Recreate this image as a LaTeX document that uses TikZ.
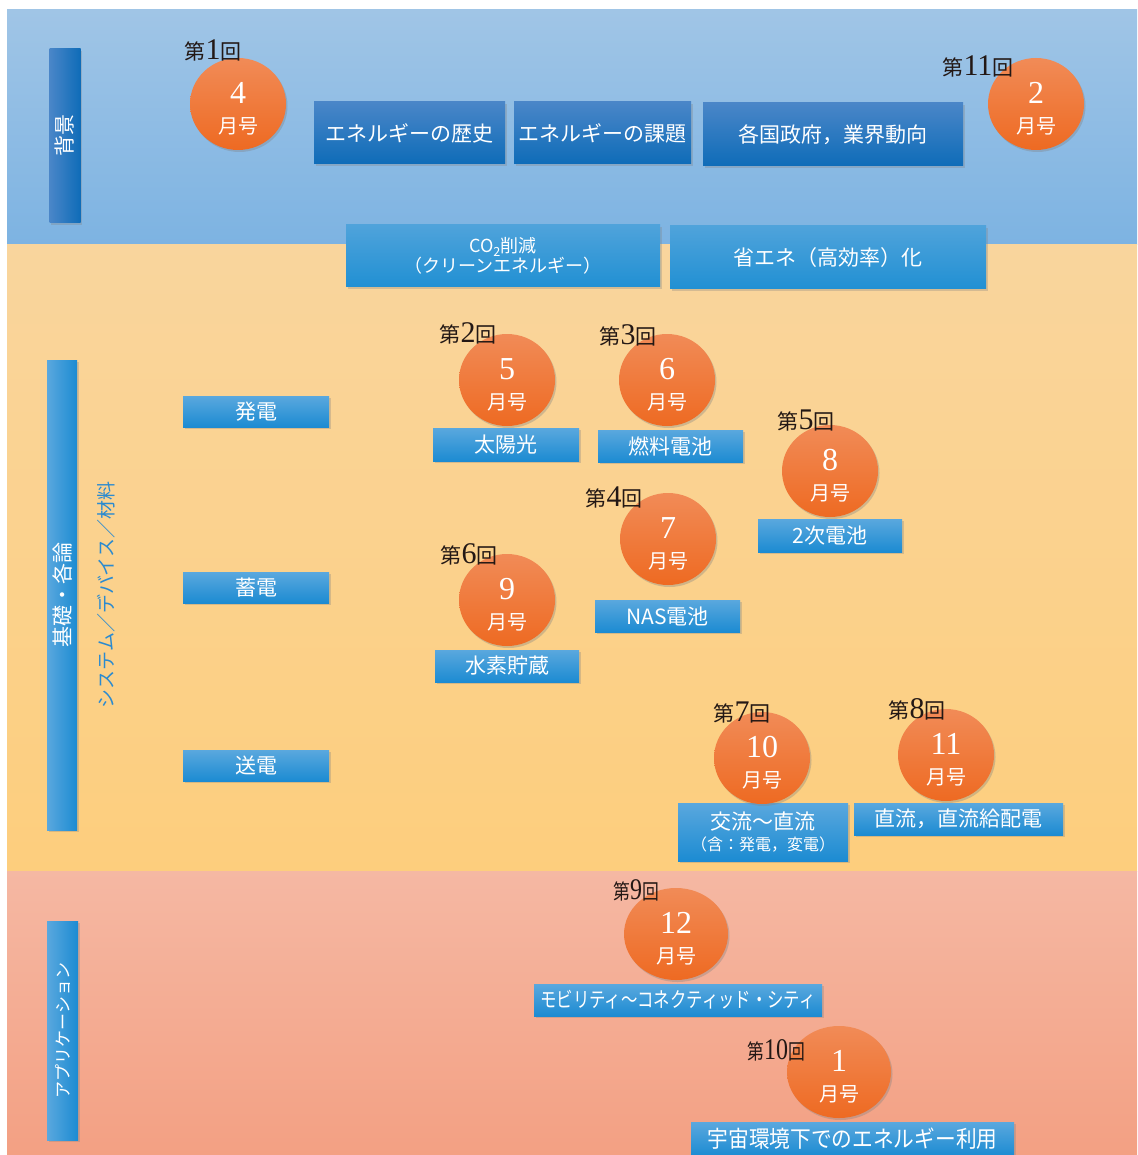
\documentclass[tikz,border=0pt]{standalone}
\usepackage{fontspec}
\usepackage{graphicx}
\setmainfont{Liberation Serif}
\newfontfamily\jpfont{Noto Sans CJK JP}
\usetikzlibrary{shapes.geometric,shadows}

\definecolor{bandblueA}{HTML}{A0C5E6}
\definecolor{bandblueB}{HTML}{7DB3E2}
\definecolor{bandorangeA}{HTML}{F9D59D}
\definecolor{bandorangeB}{HTML}{FDCE7D}
\definecolor{bandpinkA}{HTML}{F5B8A3}
\definecolor{bandpinkB}{HTML}{F3A083}
\definecolor{darkA}{HTML}{4A86C8}
\definecolor{darkB}{HTML}{0E6CB8}
\definecolor{midA}{HTML}{4FA3DB}
\definecolor{midB}{HTML}{2190D3}
\definecolor{lightA}{HTML}{5AA8DE}
\definecolor{lightB}{HTML}{1C8BD2}
\definecolor{orangeA}{HTML}{F18B57}
\definecolor{orangeB}{HTML}{EE6A22}
\definecolor{inkc}{HTML}{231815}
\definecolor{sysblue}{HTML}{2A8AD0}

\newcommand{\jpsize}[1]{\jpfont\fontsize{#1}{#1}\selectfont}
\newcommand{\kai}[1]{{\jpsize{21}第}{\fontsize{30}{30}\selectfont #1}{\jpsize{21}回}}
\newcommand{\gou}[1]{{\fontsize{32}{30}\selectfont\rule{0pt}{31pt}#1}\\{\jpfont\fontsize{20}{30}\selectfont 月号}}

\begin{document}
\begin{tikzpicture}[x=1pt, y=-1pt,
    darkbox/.style={rectangle, inner sep=0pt, top color=darkA, bottom color=darkB,
      text=white, font=\jpsize{21}, align=center,
      drop shadow={shadow xshift=1.5pt, shadow yshift=-2pt, opacity=0.3}},
    midbox/.style={darkbox, top color=midA, bottom color=midB},
    topicbox/.style={darkbox, top color=lightA, bottom color=lightB},
    sidebar/.style={darkbox, left color=lightA, right color=lightB, rotate=90},
    issue/.style={ellipse, inner sep=0pt, minimum width=96pt, minimum height=92pt,
      top color=orangeA, bottom color=orangeB, text=white, align=center,
      font=\fontsize{20}{30}\selectfont,
      drop shadow={shadow xshift=1.5pt, shadow yshift=-2pt, opacity=0.35}},
    kailabel/.style={text=inkc, inner sep=0pt}]
  \fill[white] (0,0) rectangle (1137,1155);
  \useasboundingbox (0,0) rectangle (1137,1155);

  % Bands
  \shade[top color=bandblueA, bottom color=bandblueB] (7,10) rectangle (1137,245);
  \shade[top color=bandorangeA, bottom color=bandorangeB] (7,245) rectangle (1137,871);
  \shade[top color=bandpinkA, bottom color=bandpinkB] (7,871) rectangle (1137,1155);

  % Side bars
  \node[sidebar, left color=darkA, right color=darkB, minimum width=174pt, minimum height=31pt] (haikei) at (65,136) {背景};
  \node[sidebar, minimum width=470pt, minimum height=30pt] (kiso) at (62,595) {基礎・各論};
  \node[sidebar, minimum width=219pt, minimum height=31pt, font=\jpsize{17}] (app) at (62.5,1030.5) {アプリケーション};
  \node[text=sysblue, font=\jpsize{19}, rotate=90] (sys) at (106,595) {システム／デバイス／材料};

  % Background boxes
  \node[darkbox, minimum width=191pt, minimum height=62pt] (rekishi) at (409.5,133) {エネルギーの歴史};
  \node[darkbox, minimum width=177pt, minimum height=62pt] (kadai) at (602.5,133) {エネルギーの課題};
  \node[darkbox, minimum width=260pt, minimum height=63pt] (doukou) at (833,134.5) {各国政府，業界動向};
  \node[midbox, minimum width=314pt, minimum height=62pt, font=\jpsize{18}] (co2) at (503,256) {CO\textsubscript{2}削減\\（クリーンエネルギー）};
  \node[midbox, minimum width=316pt, minimum height=63pt] (shoene) at (828,257.5) {省エネ（高効率）化};

  % Categories
  \node[topicbox, minimum width=146pt, minimum height=31pt] (hatsuden) at (256,411.5) {発電};
  \node[topicbox, minimum width=146pt, minimum height=31pt] (chikuden) at (256,587.5) {蓄電};
  \node[topicbox, minimum width=146pt, minimum height=31pt] (souden) at (256,765.5) {送電};

  % Topics
  \node[topicbox, minimum width=146pt, minimum height=33pt] (taiyo) at (506,444.5) {太陽光};
  \node[topicbox, minimum width=145pt, minimum height=32pt] (nenryo) at (670.5,446) {燃料電池};
  \node[topicbox, minimum width=144pt, minimum height=33pt] (niji) at (830,535.5) {2次電池};
  \node[topicbox, minimum width=145pt, minimum height=32pt] (nas) at (667.5,616) {NAS電池};
  \node[topicbox, minimum width=144pt, minimum height=32pt] (suiso) at (507,666) {水素貯蔵};
  \node[topicbox, minimum width=170pt, minimum height=58pt] (kouryu) at (763,832) {交流〜直流\\{\jpsize{16}（含：発電，変電）}};
  \node[topicbox, minimum width=209pt, minimum height=32pt] (chokuryu) at (958.5,819) {直流，直流給配電};
  \node[topicbox, minimum width=288pt, minimum height=32pt] (mobility) at (678,1000) {\scalebox{0.78}[1]{モビリティ〜コネクティッド・シティ}};
  \node[topicbox, minimum width=323pt, minimum height=34pt] (uchu) at (852.5,1139) {\scalebox{0.9}[1]{\jpsize{23}宇宙環境下でのエネルギー利用}};

  % Issues
  \node[issue] (no1) at (238,104) {\gou{4}};
  \node[issue] (no11) at (1036,104) {\gou{2}};
  \node[issue] (no2) at (507,380) {\gou{5}};
  \node[issue] (no3) at (667,380) {\gou{6}};
  \node[issue] (no5) at (830,471) {\gou{8}};
  \node[issue] (no4) at (668,539) {\gou{7}};
  \node[issue] (no6) at (507,600) {\gou{9}};
  \node[issue] (no7) at (762,758) {\gou{10}};
  \node[issue] (no8) at (946,755) {\gou{11}};
  \node[issue, minimum width=104pt] (no9) at (676,934) {\gou{12}};
  \node[issue, minimum width=104pt] (no10) at (839,1072) {\gou{1}};

  % Issue numbers
  \node[kailabel] (kai1) at (213,50) {\kai{1}};
  \node[kailabel] (kai11) at (978,66) {\kai{11}};
  \node[kailabel] (kai2) at (468,333) {\kai{2}};
  \node[kailabel] (kai3) at (628,335) {\kai{3}};
  \node[kailabel] (kai5) at (806,421) {\kai{5}};
  \node[kailabel] (kai4) at (614,497) {\kai{4}};
  \node[kailabel] (kai6) at (469,554) {\kai{6}};
  \node[kailabel] (kai7) at (742,713) {\kai{7}};
  \node[kailabel] (kai8) at (917,709) {\kai{8}};
  \node[kailabel] (kai9) at (636,890) {\scalebox{0.8}[1]{\kai{9}}};
  \node[kailabel] (kai10) at (776,1050) {\scalebox{0.8}[1]{\kai{10}}};
\end{tikzpicture}
\end{document}
